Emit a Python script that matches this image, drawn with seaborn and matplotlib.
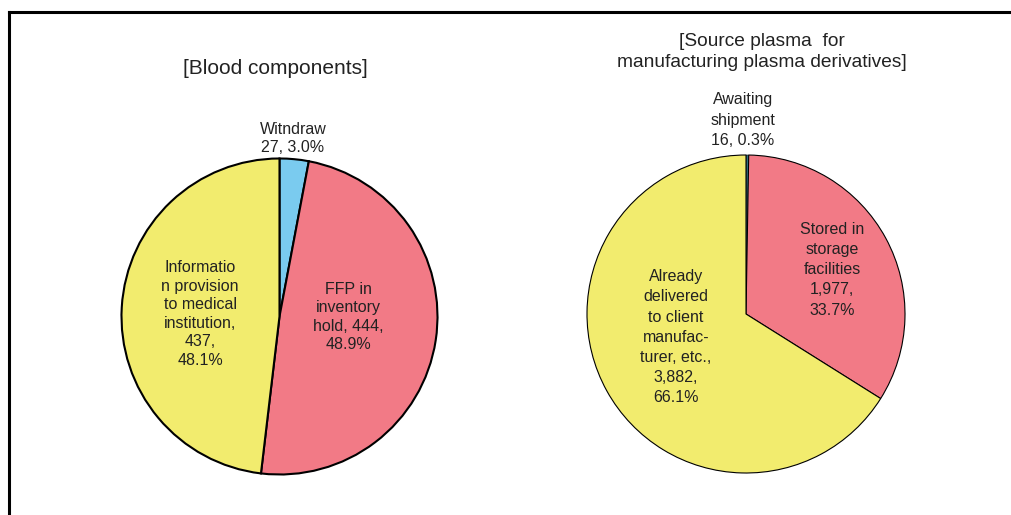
import matplotlib
matplotlib.use("Agg")
import matplotlib.pyplot as plt
from matplotlib.lines import Line2D
import seaborn as sns

# Blood components
blood_labels = ["Witndraw", "FFP in\ninventory\nhold", "Informatio\nn provision\nto medical\ninstitution"]
blood_values = [27, 444, 437]
blood_colors = ["#7ACBEF", "#F27A86", "#F2EC6E"]

# Source plasma for manufacturing plasma derivatives
plasma_labels = ["Awaiting\nshipment", "Stored in\nstorage\nfacilities",
                 "Already\ndelivered\nto client\nmanufac-\nturer, etc."]
plasma_values = [16, 1977, 3882]
plasma_colors = ["#2F6F80", "#F27A86", "#F2EC6E"]

sns.set_theme(style="white")
plt.rcParams["font.family"] = ["Liberation Sans", "DejaVu Sans"]

W, H = 1011, 515
fig = plt.figure(figsize=(W / 100, H / 100), dpi=100)
fig.patch.set_facecolor("white")

TEXT = "#222222"


def pie_axes(cx, cy, r):
    return fig.add_axes([(cx - r) / W, (H - cy - r) / H, 2 * r / W, 2 * r / H])


# Left pie
ax1 = pie_axes(279.5, 316.5, 158)
w1, _ = ax1.pie(blood_values, colors=blood_colors, startangle=90, counterclock=False,
                radius=1, wedgeprops=dict(edgecolor="black", linewidth=1.5))
for w in w1:
    w.set_clip_on(False)
ax1.set_xlim(-1, 1)
ax1.set_ylim(-1, 1)
ax1.axis("off")
tot1 = sum(blood_values)
pos1 = [(0.085, 1.126), (0.434, -0.003), (-0.503, 0.016)]
texts1 = [
    f"{blood_labels[0]}\n{blood_values[0]}, {blood_values[0] / tot1 * 100:.1f}%",
    f"{blood_labels[1]}, {blood_values[1]},\n{blood_values[1] / tot1 * 100:.1f}%",
    f"{blood_labels[2]},\n{blood_values[2]},\n{blood_values[2] / tot1 * 100:.1f}%",
]
for (x, y), t in zip(pos1, texts1):
    ax1.text(x, y, t, ha="center", va="center", fontsize=11.5, color=TEXT,
             linespacing=1.3)

# Right pie
ax2 = pie_axes(746, 314, 159)
w2, _ = ax2.pie(plasma_values, colors=plasma_colors, startangle=90, counterclock=False,
                radius=1, wedgeprops=dict(edgecolor="black", linewidth=0.8))
for w in w2:
    w.set_clip_on(False)
w2[0].set_linewidth(0.4)
ax2.set_xlim(-1, 1)
ax2.set_ylim(-1, 1)
ax2.axis("off")
tot2 = sum(plasma_values)
pos2 = [(-0.019, 1.22), (0.541, 0.277), (-0.44, -0.145)]
texts2 = [
    f"{plasma_labels[0]}\n{plasma_values[0]}, {plasma_values[0] / tot2 * 100:.1f}%",
    f"{plasma_labels[1]}\n{plasma_values[1]:,},\n{plasma_values[1] / tot2 * 100:.1f}%",
    f"{plasma_labels[2]},\n{plasma_values[2]:,},\n{plasma_values[2] / tot2 * 100:.1f}%",
]
for (x, y), t in zip(pos2, texts2):
    ax2.text(x, y, t, ha="center", va="center", fontsize=11.5, color=TEXT,
             linespacing=1.42)

# Titles
fig.text(275 / W, 1 - 68 / H, "[Blood components]", ha="center", va="center",
         fontsize=15, color=TEXT)
fig.text(762 / W, 1 - 52 / H, "[Source plasma  for\nmanufacturing plasma derivatives]",
         ha="center", va="center", fontsize=13.8, color=TEXT, linespacing=1.25)

# Frame lines (top and left)
fig.add_artist(Line2D([8.5 / W, 1.0], [1 - 11.5 / H, 1 - 11.5 / H],
                      transform=fig.transFigure, color="black", linewidth=2.2,
                      solid_capstyle="projecting"))
fig.add_artist(Line2D([8.5 / W, 8.5 / W], [1 - 11.5 / H, 0.0],
                      transform=fig.transFigure, color="black", linewidth=2.2,
                      solid_capstyle="projecting"))

fig.savefig("out.png", dpi=100, facecolor="white")
